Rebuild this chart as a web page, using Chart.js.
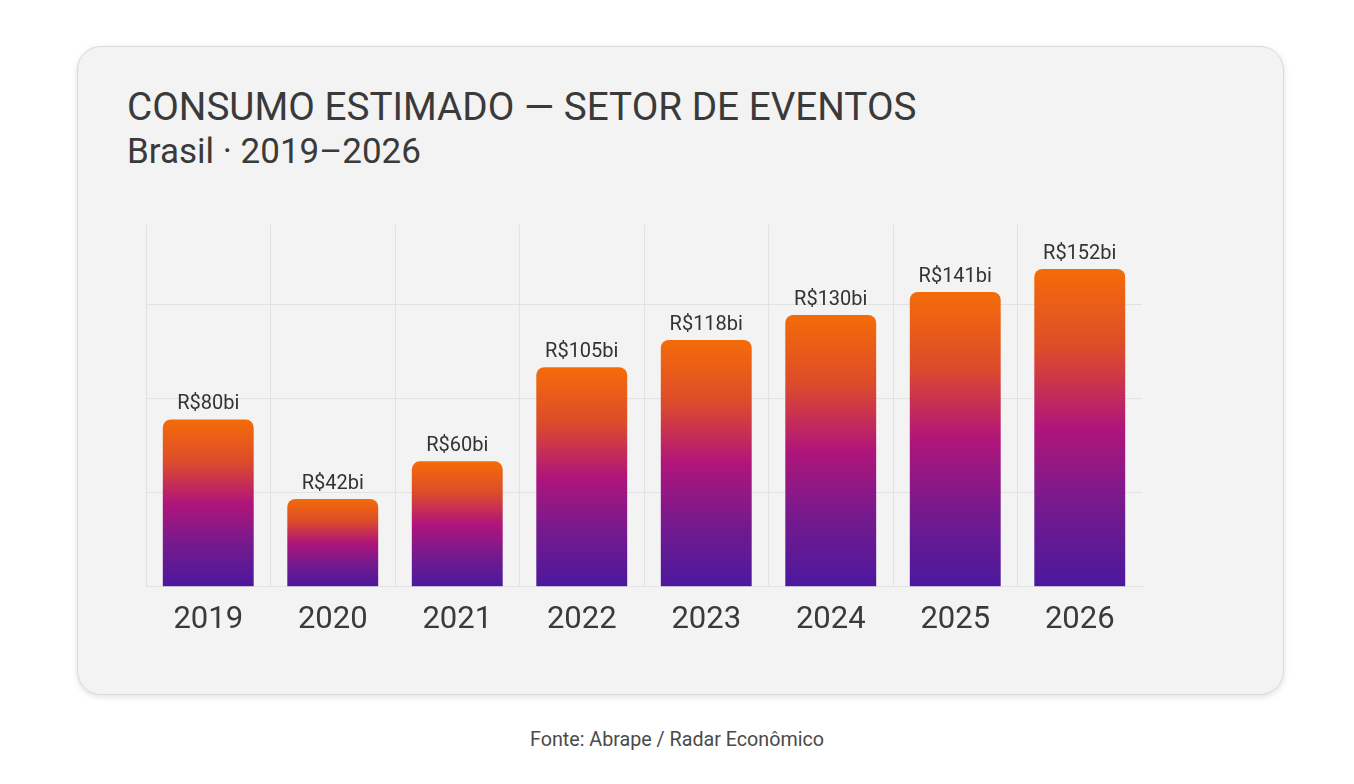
<!DOCTYPE html>
<html>
<head>
<meta charset="utf-8">
<script src="https://cdn.jsdelivr.net/npm/chart.js@4"></script>
<style>
  html, body { margin: 0; padding: 0; background: #ffffff; }
  body { width: 1354px; height: 784px; position: relative; overflow: hidden; font-family: Roboto, sans-serif; }
  .card {
    position: absolute; left: 77px; top: 46px; width: 1205px; height: 647px;
    background: #f3f3f3; border: 1px solid #dadada; border-radius: 24px;
    box-shadow: 0 2px 6px rgba(0,0,0,0.12);
  }
  .title { position: absolute; left: 127px; top: 88px; font-size: 38.7px; line-height: 1; color: #3a3a3a; white-space: nowrap; }
  .subtitle { position: absolute; left: 127px; top: 134px; font-size: 35px; line-height: 1; color: #3a3a3a; white-space: nowrap; }
  .source { position: absolute; left: 0; width: 1354px; top: 730px; text-align: center; font-size: 19.7px; line-height: 1; color: #4a4a4a; }
  #chart { position: absolute; left: 0; top: 0; }
</style>
</head>
<body>
<div class="card"></div>
<div class="title">CONSUMO ESTIMADO — SETOR DE EVENTOS</div>
<div class="subtitle">Brasil · 2019–2026</div>
<div class="source">Fonte: Abrape / Radar Econômico</div>
<canvas id="chart" width="1354" height="784"></canvas>
<script>
// data (R$ bilhões)
const years = ["2019", "2020", "2021", "2022", "2023", "2024", "2025", "2026"];
const consumo = [80, 42, 60, 105, 118, 130, 141, 152];
const valueLabels = ["R$80bi", "R$42bi", "R$60bi", "R$105bi", "R$118bi", "R$130bi", "R$141bi", "R$152bi"];

const gridColor = "#e2e2e2";

// gradient per bar, from its own top down to the baseline
const barGradient = (ctx) => {
  const chart = ctx.chart;
  const yScale = chart.scales.y;
  if (!yScale || ctx.type !== "data") return "#b2157a";
  const top = yScale.getPixelForValue(ctx.raw);
  const bottom = yScale.getPixelForValue(0);
  if (!isFinite(top) || !isFinite(bottom)) return "#b2157a";
  const g = chart.ctx.createLinearGradient(0, top, 0, bottom);
  g.addColorStop(0, "#f46c08");
  g.addColorStop(0.25, "#dd4c2a");
  g.addColorStop(0.5, "#b0157a");
  g.addColorStop(0.75, "#741a8e");
  g.addColorStop(1, "#4b189e");
  return g;
};

// labels above bars
const valueLabelPlugin = {
  id: "valueLabels",
  afterDatasetsDraw(chart) {
    const { ctx } = chart;
    const meta = chart.getDatasetMeta(0);
    ctx.save();
    ctx.font = "20px Roboto, sans-serif";
    ctx.fillStyle = "#333333";
    ctx.textAlign = "center";
    ctx.textBaseline = "alphabetic";
    meta.data.forEach((bar, i) => {
      ctx.fillText(valueLabels[i], bar.x, bar.y - 10);
    });
    ctx.restore();
  }
};

new Chart(document.getElementById("chart"), {
  type: "bar",
  data: {
    labels: years,
    datasets: [{
      label: "Consumo estimado",
      data: consumo,
      backgroundColor: barGradient,
      borderRadius: { topLeft: 8, topRight: 8, bottomLeft: 0, bottomRight: 0 },
      borderSkipped: "bottom",
      barPercentage: 0.73,
      categoryPercentage: 1.0
    }]
  },
  options: {
    responsive: false,
    animation: false,
    devicePixelRatio: 1,
    layout: { padding: { left: 146, top: 225, right: 212, bottom: 130 } },
    plugins: {
      legend: { display: false },
      tooltip: { enabled: false }
    },
    scales: {
      x: {
        grid: {
          color: (c) => (c.tick ? gridColor : "transparent"),
          drawTicks: false,
          offset: true
        },
        border: { display: true, color: gridColor },
        ticks: {
          padding: 15,
          color: "#3a3a3a",
          font: { family: "Roboto", size: 31 }
        }
      },
      y: {
        min: 0,
        max: 173,
        ticks: { display: false, stepSize: 45 },
        grid: {
          color: (c) => (c.tick && c.tick.value > 0 && c.tick.value % 45 === 0 ? gridColor : "transparent"),
          drawTicks: false
        },
        border: { display: true, color: gridColor }
      }
    }
  },
  plugins: [valueLabelPlugin]
});
</script>
</body>
</html>
